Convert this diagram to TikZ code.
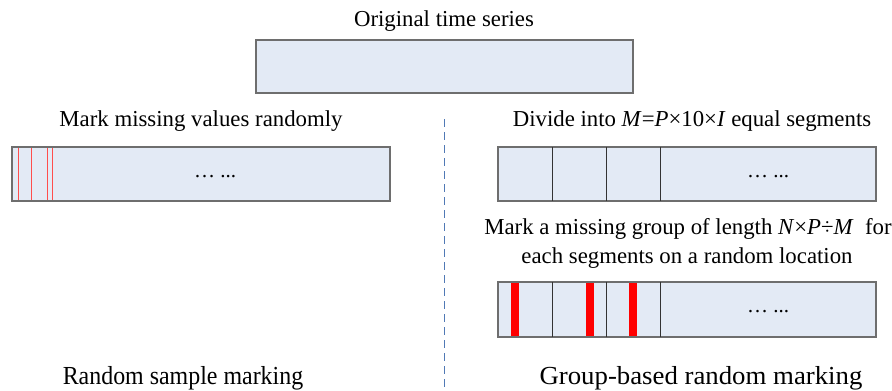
\documentclass[tikz,border=0pt]{standalone}
\usepackage{fontspec}
\setmainfont{Liberation Serif}
\definecolor{boxfill}{HTML}{E3EAF5}
\definecolor{boxline}{HTML}{6E6E6E}
\definecolor{thinred}{HTML}{FF4D4D}
\definecolor{dashblue}{HTML}{5079B5}
\begin{document}
\begin{tikzpicture}[x=1pt,y=-1pt,
  series/.style={draw=boxline,fill=boxfill,line width=1.2pt},
  divider/.style={draw=black!80,line width=0.8pt},
  lbl/.style={font=\fontsize{22.8}{26}\selectfont,inner sep=0pt},
  biglbl/.style={font=\fontsize{26}{30}\selectfont,inner sep=0pt,xscale=0.92},
  dots/.style={font=\fontsize{21}{24}\selectfont,inner sep=0pt}]
\useasboundingbox (0,0) rectangle (892,391);
% top
\node[lbl] (t0) at (444,21) {Original time series};
\path[series] (256,40) rectangle (633,93);
% dashed divider
\coordinate (d1) at (444,119);
\coordinate (d2) at (444,391);
\draw[dashblue,line width=1pt,dash pattern=on 8pt off 5pt] (d1) -- (d2);
% left
\node[lbl] (lt) at (201,121) {Mark missing values randomly};
\path[series] (12,147) rectangle (390,201);
\foreach \x in {18.5,31.5,47.5,52.5}
  \draw[thinred,line width=1.4pt] (\x,148) -- (\x,200);
\node[dots] (ld) at (215,177) {\dots\ ...};
\node[biglbl] (lb) at (183,378) {Random sample marking};
% right upper
\node[lbl] (rt) at (692,121) {Divide into \textit{M}=\textit{P}×10×\textit{I} equal segments};
\path[series] (498,147) rectangle (876,201);
\foreach \x in {552,606,660}
  \draw[divider] (\x,147) -- (\x,201);
\node[dots] (rd) at (768,177) {\dots\ ...};
% right lower
\node[lbl] (rm1) at (688,229) {Mark a missing group of length \textit{N}×\textit{P}÷\textit{M}\ \ for};
\node[lbl] (rm2) at (687,258) {each segments on a random location};
\path[series] (498,282) rectangle (876,337);
\foreach \x in {514.5,590,633}
  \fill[red] (\x-4,283) rectangle (\x+4,336);
\foreach \x in {552,606,660}
  \draw[divider] (\x,282) -- (\x,337);
\node[dots] (rd2) at (768,312) {\dots\ ...};
\node[biglbl,xscale=1.12] (rb) at (701,378) {Group-based random marking};
\end{tikzpicture}
\end{document}
